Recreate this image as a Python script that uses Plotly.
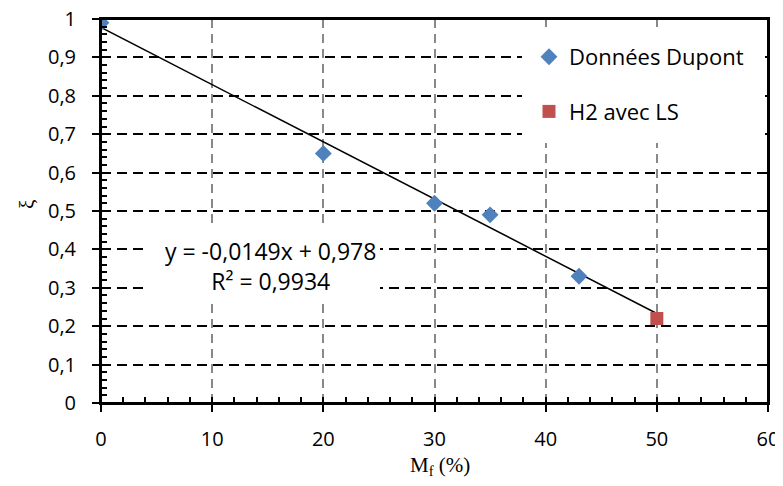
import plotly.graph_objects as go

dupont_x = [0, 20, 30, 35, 43]
dupont_y = [0.99, 0.65, 0.52, 0.49, 0.33]
h2_x = [50]
h2_y = [0.22]
slope = -0.0149
intercept = 0.978
trend_x = [0, 50]
trend_y = [intercept + slope * v for v in trend_x]

FONT = "Open Sans"
OFF = 8  # browser body margin
W, H = 783 - OFF, 486 - 2 * OFF
# plot area in page pixels
L, R, T, B = 101, 768, 19, 403
PW, PH = R - L, B - T


def dx(px):
    return (px - L) / PW * 60


def dy(py):
    return (B - py) / PH


def px_(px):
    return (px - L) / PW


def py_(py):
    return (B - py) / PH


fig = go.Figure()
fig.add_trace(go.Scatter(x=trend_x, y=trend_y, mode="lines",
                         line=dict(color="black", width=1.5), showlegend=False, hoverinfo="skip"))
fig.add_trace(go.Scatter(x=dupont_x, y=dupont_y, mode="markers", name="Données Dupont",
                         legendgroup="a",
                         marker=dict(symbol="diamond", size=13, color="#4F81BD")))
fig.add_trace(go.Scatter(x=h2_x, y=h2_y, mode="markers", name="H2 avec LS",
                         legendgroup="b",
                         marker=dict(symbol="square", size=13, color="#C0504D")))

# white boxes hiding gridlines behind legend and equation
fig.add_shape(type="rect", xref="x", yref="y", layer="between",
              x0=dx(522), x1=dx(765), y0=dy(143), y1=dy(27),
              line=dict(width=0), fillcolor="white")
fig.add_shape(type="rect", xref="x", yref="y", layer="between",
              x0=dx(147), x1=dx(380), y0=dy(304), y1=dy(227),
              line=dict(width=0), fillcolor="white")
# plot border (drawn explicitly)
for (x0, y0, x1, y1) in [(0, 0, 1, 0), (0, 1, 1, 1), (0, 0, 0, 1), (1, 0, 1, 1)]:
    fig.add_shape(type="line", xref="paper", yref="paper", layer="above",
                  x0=x0, y0=y0, x1=x1, y1=y1, line=dict(width=2, color="black"))

fig.add_annotation(xref="x", yref="y", x=dx(270), y=dy(266),
                   xanchor="center", yanchor="middle",
                   text="y = -0,0149x + 0,978<br>R² = 0,9934", showarrow=False,
                   align="center", font=dict(family=FONT, size=23, color="black"))

# axis titles
fig.add_annotation(xref="paper", yref="paper", x=px_(440), y=py_(466),
                   xanchor="center", yanchor="middle",
                   text="M<sub>f</sub> (%)", showarrow=False,
                   font=dict(family="Liberation Serif", size=21, color="black"))
fig.add_annotation(xref="paper", yref="paper", x=px_(27), y=py_(205),
                   xanchor="center", yanchor="middle",
                   text="ξ", showarrow=False, textangle=-90,
                   font=dict(family="Liberation Serif", size=21, color="black"))

fig.update_layout(
    width=W, height=H,
    margin=dict(l=L - OFF, r=W - (R - OFF), t=T - OFF, b=H - (B - OFF)),
    plot_bgcolor="white", paper_bgcolor="white",
    separators=", ",
    font=dict(family=FONT, size=20, color="black"),
    showlegend=True,
    legend=dict(x=px_(529), y=py_(36), xanchor="left", yanchor="top",
                bgcolor="rgba(0,0,0,0)", tracegroupgap=23,
                font=dict(family=FONT, size=22, color="black")),
    xaxis=dict(range=[0, 60], dtick=10, showgrid=True, gridcolor="#888888", gridwidth=2,
               griddash="9px,6px", zeroline=False, automargin=False,
               showline=True, linecolor="black", linewidth=2, mirror=True,
               ticks="outside", ticklen=7, tickwidth=2, tickcolor="black",
               ticklabelstandoff=10, ticklabeloverflow="allow",
               tickfont=dict(family=FONT, size=20),
               minor=dict(dtick=2, ticks="inside", ticklen=6, tickwidth=2, tickcolor="black", showgrid=False)),
    yaxis=dict(range=[0, 1], dtick=0.1, showgrid=True, gridcolor="black", gridwidth=2,
               griddash="10px,6px", zeroline=False, automargin=False,
               showline=True, linecolor="black", linewidth=2, mirror=True,
               ticks="outside", ticklen=7, tickwidth=2, tickcolor="black",
               ticklabelstandoff=12, ticklabeloverflow="allow",
               tickfont=dict(family=FONT, size=20),
               minor=dict(dtick=0.02, ticks="inside", ticklen=6, tickwidth=2, tickcolor="black", showgrid=False)),
)
fig.write_html("out.html")
